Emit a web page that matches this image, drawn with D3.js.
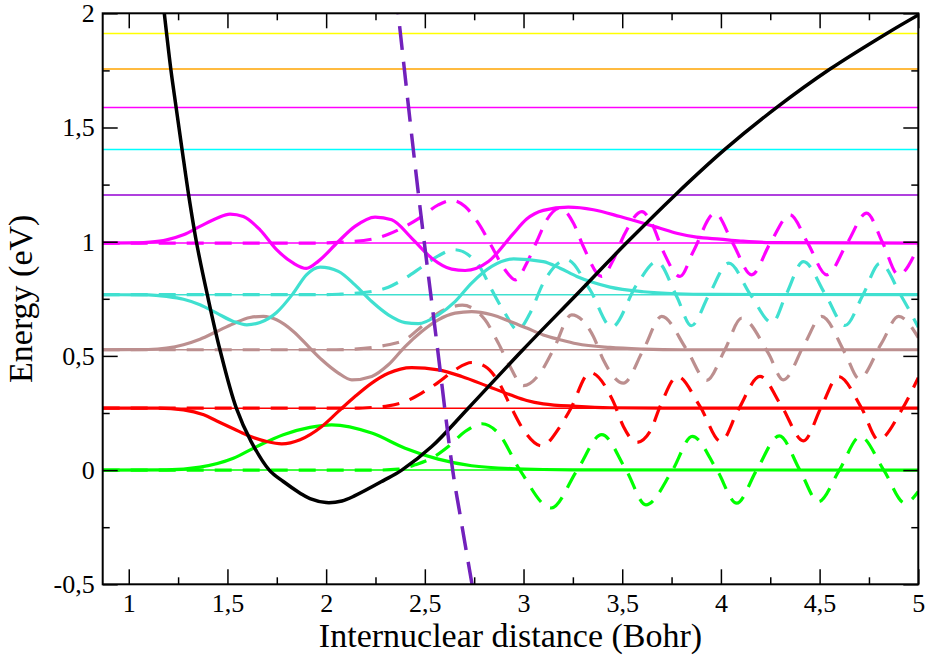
<!DOCTYPE html>
<html>
<head>
<meta charset="utf-8">
<script src="https://cdn.jsdelivr.net/npm/d3@7"></script>
<style>
  body { margin: 0; background: #fff; }
  svg { display: block; }
  .tick text { font-family: "Liberation Serif", "Times New Roman", Times, serif; }
</style>
</head>
<body>
<svg id="chart" width="928" height="656"></svg>
<script>
// ---- Axis ticks ----
const xMajor = [1, 1.5, 2, 2.5, 3, 3.5, 4, 4.5, 5];
const xMinor = [1.25, 1.75, 2.25, 2.75, 3.25, 3.75, 4.25, 4.75];
const yMajor = [-0.5, 0, 0.5, 1, 1.5, 2];
const yMinor = [-0.25, 0.25, 0.75, 1.25, 1.75];

// ---- Vibrational levels of the bound state (eV) and their colours ----
const levels = [0, 0.271, 0.527, 0.768, 0.994, 1.205, 1.404, 1.588, 1.756, 1.912];
const levelColors = ["#00ff00", "#ff0000", "#bc8f8f", "#40e0d0", "#ff00ff",
                     "#9400d3", "#00ffff", "#ff00ff", "#ffa500", "#ffff00"];

// ---- Bound potential curve (black) : [R (Bohr), E (eV)] ----
const boundPotential = [
  [1.167, 2.10], [1.180, 2.0], [1.213, 1.756], [1.240, 1.588], [1.270, 1.404],
  [1.303, 1.207], [1.344, 0.993], [1.398, 0.768], [1.462, 0.527], [1.545, 0.271],
  [1.62, 0.125], [1.712, 0.0], [1.783, -0.050], [1.868, -0.101], [1.918, -0.125],
  [2.0, -0.142], [2.08, -0.135], [2.146, -0.112], [2.29, -0.046], [2.383, 0.0],
  [2.535, 0.103], [2.720, 0.271], [2.997, 0.527], [3.268, 0.768], [3.521, 0.994],
  [3.77, 1.206], [4.02, 1.404], [4.283, 1.588], [4.553, 1.756], [4.84, 1.912],
  [5.0, 1.993]
];

// ---- Repulsive potential curve (indigo, dashed) ----
const repulsivePotential = [
  [2.352, 2.10], [2.365, 2.0], [2.464, 1.235], [2.565, 0.527], [2.641, 0.0],
  [2.683, -0.218], [2.739, -0.5], [2.745, -0.53]
];

// ---- Bound vibrational wavefunctions (solid), drawn on their level ----
const bound0 = [
  [0.868, 0], [1.19, 0.001], [1.361, 0.013], [1.53, 0.052], [1.648, 0.103],
  [1.783, 0.155], [1.918, 0.187], [2.028, 0.198], [2.231, 0.162], [2.40, 0.096],
  [2.568, 0.048], [2.737, 0.019], [2.957, 0.006], [3.25, 0.001], [5.0, 0]
];
const bound1 = [
  [0.868, 0.271], [1.15, 0.271], [1.277, 0.264], [1.38, 0.242], [1.446, 0.215],
  [1.533, 0.180], [1.614, 0.148], [1.699, 0.125], [1.775, 0.115], [1.868, 0.133],
  [1.978, 0.191], [2.062, 0.257], [2.146, 0.322], [2.231, 0.381], [2.315, 0.424],
  [2.433, 0.449], [2.568, 0.439], [2.687, 0.410], [2.822, 0.366], [2.932, 0.330],
  [3.016, 0.305], [3.10, 0.290], [3.27, 0.279], [3.44, 0.273], [3.7, 0.271], [5.0, 0.271]
];
const bound2 = [
  [0.868, 0.527], [1.10, 0.528], [1.192, 0.534], [1.277, 0.549], [1.361, 0.573],
  [1.446, 0.607], [1.530, 0.641], [1.614, 0.668], [1.682, 0.673], [1.749, 0.658],
  [1.834, 0.607], [1.918, 0.534], [1.978, 0.483], [2.062, 0.425], [2.13, 0.395],
  [2.231, 0.410], [2.315, 0.461], [2.40, 0.541], [2.484, 0.607], [2.568, 0.658],
  [2.653, 0.687], [2.737, 0.694], [2.839, 0.680], [2.932, 0.651], [3.016, 0.622],
  [3.10, 0.592], [3.185, 0.571], [3.27, 0.553], [3.438, 0.537], [3.607, 0.530],
  [3.8, 0.527], [5.0, 0.527]
];
const bound3 = [
  [0.868, 0.768], [1.10, 0.767], [1.192, 0.760], [1.277, 0.748], [1.361, 0.724],
  [1.446, 0.687], [1.530, 0.651], [1.598, 0.636], [1.665, 0.646], [1.749, 0.690],
  [1.834, 0.775], [1.90, 0.855], [1.97, 0.889], [2.062, 0.870], [2.146, 0.811],
  [2.231, 0.738], [2.315, 0.680], [2.40, 0.646], [2.467, 0.641], [2.568, 0.680],
  [2.653, 0.738], [2.737, 0.819], [2.839, 0.892], [2.95, 0.925], [3.10, 0.913],
  [3.185, 0.884], [3.27, 0.848], [3.354, 0.821], [3.438, 0.801], [3.607, 0.781],
  [3.776, 0.772], [3.95, 0.769], [5.0, 0.768]
];
const bound4 = [
  [0.868, 0.994], [1.05, 0.995], [1.108, 0.998], [1.192, 1.008], [1.277, 1.030],
  [1.361, 1.067], [1.446, 1.103], [1.513, 1.121], [1.581, 1.110], [1.665, 1.052],
  [1.749, 0.965], [1.834, 0.906], [1.90, 0.883], [1.961, 0.915], [2.062, 1.001],
  [2.146, 1.067], [2.248, 1.108], [2.332, 1.096], [2.433, 1.016], [2.535, 0.928],
  [2.636, 0.880], [2.704, 0.874], [2.822, 0.913], [2.945, 1.032], [3.016, 1.099],
  [3.10, 1.137], [3.227, 1.151], [3.354, 1.140], [3.489, 1.110], [3.607, 1.081],
  [3.692, 1.059], [3.776, 1.037], [3.877, 1.020], [3.996, 1.011], [4.10, 1.003],
  [4.25, 0.996], [5.0, 0.994]
];

// ---- Continuum wavefunctions of the repulsive state (dashed) ----
const free0 = [
  [0.868, 0], [2.25, 0], [2.366, 0.004], [2.45, 0.023], [2.535, 0.052], [2.619, 0.103],
  [2.704, 0.169], [2.79, 0.203], [2.872, 0.162], [2.982, 0], [3.14, -0.166],
  [3.272, 0], [3.396, 0.155], [3.52, 0], [3.62, -0.152], [3.755, 0], [3.855, 0.148],
  [3.98, 0], [4.08, -0.145], [4.181, 0], [4.296, 0.150], [4.40, 0], [4.494, -0.138],
  [4.60, 0], [4.706, 0.147], [4.825, 0], [4.933, -0.145], [5.0, -0.094]
];
const free1 = [
  [0.868, 0.271], [2.15, 0.271], [2.231, 0.274], [2.315, 0.281], [2.40, 0.300],
  [2.484, 0.337], [2.568, 0.384], [2.653, 0.439], [2.737, 0.471], [2.805, 0.454],
  [2.872, 0.388], [2.935, 0.279], [3.0, 0.176], [3.092, 0.106], [3.185, 0.191],
  [3.236, 0.264], [3.337, 0.427], [3.455, 0.300], [3.506, 0.191], [3.573, 0.121],
  [3.641, 0.169], [3.692, 0.279], [3.78, 0.410], [3.894, 0.279], [4.0, 0.125],
  [4.088, 0.264], [4.198, 0.410], [4.308, 0.279], [4.418, 0.128], [4.51, 0.279],
  [4.595, 0.410], [4.713, 0.271], [4.798, 0.133], [4.916, 0.264], [5.0, 0.405]
];
const free2 = [
  [0.868, 0.527], [2.05, 0.527], [2.146, 0.530], [2.231, 0.537], [2.315, 0.549],
  [2.40, 0.571], [2.484, 0.629], [2.568, 0.687], [2.69, 0.722], [2.805, 0.658],
  [2.872, 0.556], [2.923, 0.468], [3.0, 0.370], [3.084, 0.425], [3.151, 0.527],
  [3.244, 0.680], [3.354, 0.585], [3.404, 0.483], [3.506, 0.381], [3.607, 0.527],
  [3.70, 0.673], [3.827, 0.527], [3.928, 0.393], [4.02, 0.527], [4.105, 0.665],
  [4.24, 0.512], [4.316, 0.395], [4.426, 0.556], [4.51, 0.673], [4.629, 0.512],
  [4.70, 0.400], [4.814, 0.556], [4.90, 0.673], [5.0, 0.580]
];
const free3 = [
  [0.868, 0.768], [1.98, 0.768], [2.062, 0.770], [2.231, 0.782], [2.315, 0.801],
  [2.40, 0.840], [2.484, 0.889], [2.568, 0.938], [2.65, 0.965], [2.771, 0.899],
  [2.839, 0.789], [2.906, 0.687], [2.97, 0.614], [3.033, 0.687], [3.10, 0.819],
  [3.219, 0.921], [3.337, 0.789], [3.447, 0.626], [3.573, 0.811], [3.675, 0.913],
  [3.776, 0.760], [3.85, 0.632], [3.94, 0.768], [4.04, 0.906], [4.15, 0.768],
  [4.26, 0.645], [4.33, 0.768], [4.418, 0.913], [4.53, 0.768], [4.629, 0.633],
  [4.72, 0.768], [4.806, 0.906], [4.91, 0.768], [5.0, 0.625]
];
const free4 = [
  [0.868, 0.994], [1.95, 0.994], [2.062, 0.997], [2.231, 1.011], [2.315, 1.033],
  [2.40, 1.067], [2.484, 1.110], [2.568, 1.161], [2.636, 1.181], [2.704, 1.154],
  [2.771, 1.081], [2.839, 0.979], [2.906, 0.877], [2.96, 0.833], [3.016, 0.906],
  [3.067, 1.001], [3.118, 1.096], [3.185, 1.147], [3.253, 1.081], [3.303, 0.979],
  [3.396, 0.848], [3.455, 0.921], [3.506, 1.023], [3.60, 1.132], [3.649, 1.081],
  [3.708, 0.957], [3.793, 0.848], [3.86, 0.957], [3.97, 1.125], [4.06, 0.994],
  [4.156, 0.855], [4.25, 0.994], [4.35, 1.118], [4.44, 0.994], [4.536, 0.855],
  [4.64, 0.994], [4.738, 1.125], [4.82, 0.994], [4.899, 0.855], [5.0, 0.980]
];

const boundStates = [bound0, bound1, bound2, bound3, bound4];
const freeStates = [free0, free1, free2, free3, free4];
const stateColors = ["#00ff00", "#ff0000", "#bc8f8f", "#40e0d0", "#ff00ff"];

// ---- Layout ----
const width = 928, height = 656;
const margin = { top: 13.3, right: 9.7, bottom: 71.7, left: 102.7 };
const FONT = "Liberation Serif, Times New Roman, Times, serif";

const svg = d3.select("#chart");
const x = d3.scaleLinear().domain([0.868, 5]).range([margin.left, width - margin.right]);
const y = d3.scaleLinear().domain([-0.5, 2]).range([height - margin.bottom, margin.top]);

const plotW = width - margin.left - margin.right;
const plotH = height - margin.top - margin.bottom;

svg.append("defs").append("clipPath").attr("id", "plot-clip")
  .append("rect")
  .attr("x", margin.left).attr("y", margin.top)
  .attr("width", plotW).attr("height", plotH);

const plot = svg.append("g").attr("clip-path", "url(#plot-clip)");

const waveLine = d3.line()
  .x(d => x(d[0]))
  .y(d => y(d[1]))
  .curve(d3.curveMonotoneX);

const smoothLine = d3.line()
  .x(d => x(d[0]))
  .y(d => y(d[1]))
  .curve(d3.curveCatmullRom.alpha(0.5));

// Energy levels
plot.selectAll("line.level")
  .data(levels)
  .join("line")
  .attr("class", "level")
  .attr("x1", x.range()[0]).attr("x2", x.range()[1])
  .attr("y1", d => y(d)).attr("y2", d => y(d))
  .attr("stroke", (d, i) => levelColors[i])
  .attr("stroke-width", 1.5);

// Continuum wavefunctions
plot.selectAll("path.free")
  .data(freeStates)
  .join("path")
  .attr("class", "free")
  .attr("d", waveLine)
  .attr("fill", "none")
  .attr("stroke", (d, i) => stateColors[i])
  .attr("stroke-width", 3.2)
  .attr("stroke-dasharray", "17,11");

// Bound wavefunctions
plot.selectAll("path.bound")
  .data(boundStates)
  .join("path")
  .attr("class", "bound")
  .attr("d", waveLine)
  .attr("fill", "none")
  .attr("stroke", (d, i) => stateColors[i])
  .attr("stroke-width", 3.2);

// Potential curves
plot.append("path")
  .datum(boundPotential)
  .attr("d", smoothLine)
  .attr("fill", "none")
  .attr("stroke", "#000")
  .attr("stroke-width", 3.5);

plot.append("path")
  .datum(repulsivePotential)
  .attr("d", smoothLine)
  .attr("fill", "none")
  .attr("stroke", "#7221bc")
  .attr("stroke-width", 3.5)
  .attr("stroke-dasharray", "24,12");

// ---- Axes ----
const fmt = d3.formatLocale({
  decimal: ",", thousands: ".", grouping: [3], currency: ["", ""], minus: "-"
}).format("~g");

function styleAxis(g) {
  g.attr("font-family", FONT).attr("font-size", 26);
  g.select(".domain").remove();
  g.selectAll(".tick line").attr("stroke", "#000").attr("stroke-width", 1.5);
  g.selectAll(".tick text").attr("fill", "#000").style("font-size", "26px");
}

const bottomY = y(-0.5), topY = y(2);
const leftX = x(0.868), rightX = x(5);

svg.append("g").attr("transform", `translate(0,${bottomY})`)
  .call(d3.axisBottom(x).tickValues(xMajor).tickSize(-15).tickSizeOuter(0)
    .tickPadding(9).tickFormat(fmt))
  .call(styleAxis);
svg.append("g").attr("transform", `translate(0,${bottomY})`)
  .call(d3.axisBottom(x).tickValues(xMinor).tickSize(-7).tickSizeOuter(0).tickFormat(""))
  .call(styleAxis);
svg.append("g").attr("transform", `translate(0,${topY})`)
  .call(d3.axisTop(x).tickValues(xMajor).tickSize(-15).tickSizeOuter(0).tickFormat(""))
  .call(styleAxis);
svg.append("g").attr("transform", `translate(0,${topY})`)
  .call(d3.axisTop(x).tickValues(xMinor).tickSize(-7).tickSizeOuter(0).tickFormat(""))
  .call(styleAxis);

svg.append("g").attr("transform", `translate(${leftX},0)`)
  .call(d3.axisLeft(y).tickValues(yMajor).tickSize(-15).tickSizeOuter(0)
    .tickPadding(8).tickFormat(fmt))
  .call(styleAxis);
svg.append("g").attr("transform", `translate(${leftX},0)`)
  .call(d3.axisLeft(y).tickValues(yMinor).tickSize(-7).tickSizeOuter(0).tickFormat(""))
  .call(styleAxis);
svg.append("g").attr("transform", `translate(${rightX},0)`)
  .call(d3.axisRight(y).tickValues(yMajor).tickSize(-15).tickSizeOuter(0).tickFormat(""))
  .call(styleAxis);
svg.append("g").attr("transform", `translate(${rightX},0)`)
  .call(d3.axisRight(y).tickValues(yMinor).tickSize(-7).tickSizeOuter(0).tickFormat(""))
  .call(styleAxis);

// Frame
svg.append("rect")
  .attr("x", leftX).attr("y", topY)
  .attr("width", rightX - leftX).attr("height", bottomY - topY)
  .attr("fill", "none").attr("stroke", "#000").attr("stroke-width", 2);

// Axis titles
svg.append("text")
  .attr("x", (leftX + rightX) / 2).attr("y", 647)
  .attr("text-anchor", "middle")
  .attr("font-family", FONT).attr("font-size", 34)
  .text("Internuclear distance (Bohr)");

svg.append("text")
  .attr("transform", `translate(32,${(topY + bottomY) / 2}) rotate(-90)`)
  .attr("text-anchor", "middle")
  .attr("font-family", FONT).attr("font-size", 34)
  .text("Energy (eV)");
</script>
</body>
</html>
